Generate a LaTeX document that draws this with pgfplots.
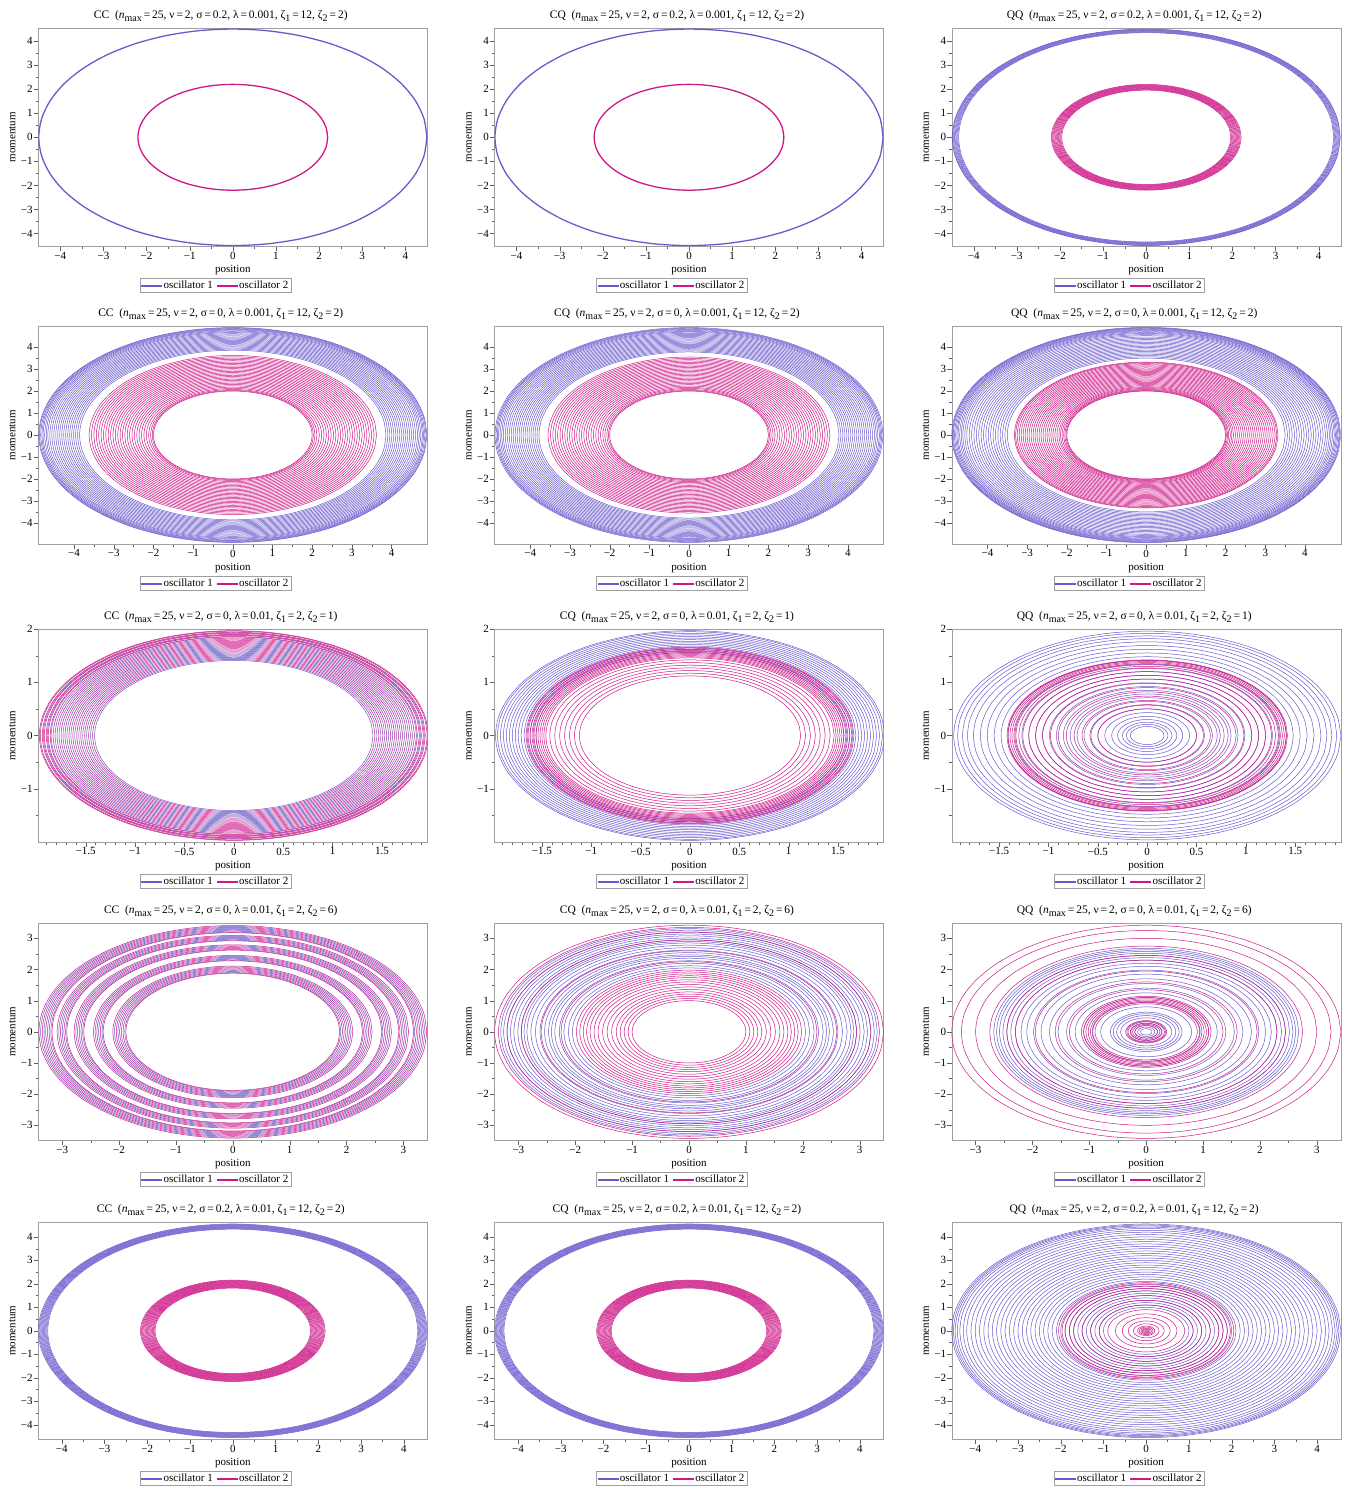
\documentclass[border=0pt]{standalone}
\usepackage{fontspec}
\setmainfont{Liberation Serif}
\usepackage{pgfplots}
\usepackage{pgfplotstable}
\pgfplotsset{compat=1.18}
\definecolor{oscA}{RGB}{106,90,205}
\definecolor{oscB}{RGB}{205,25,135}

\pgfplotstableread{
c s
1 0
0.9848 0.1736
0.9397 0.3420
0.8660 0.5
0.7660 0.6428
0.6428 0.7660
0.5 0.8660
0.3420 0.9397
0.1736 0.9848
0 1
-0.1736 0.9848
-0.3420 0.9397
-0.5 0.8660
-0.6428 0.7660
-0.7660 0.6428
-0.8660 0.5
-0.9397 0.3420
-0.9848 0.1736
-1 0
-0.9848 -0.1736
-0.9397 -0.3420
-0.8660 -0.5
-0.7660 -0.6428
-0.6428 -0.7660
-0.5 -0.8660
-0.3420 -0.9397
-0.1736 -0.9848
0 -1
0.1736 -0.9848
0.3420 -0.9397
0.5 -0.8660
0.6428 -0.7660
0.7660 -0.6428
0.8660 -0.5
0.9397 -0.3420
0.9848 -0.1736
1 0
}\unitcircle

% one closed ring of amplitude r for every r in the list
\newcommand\rings[2]{\pgfplotsinvokeforeach{#2}{\addplot[#1,forget plot,smooth] table[x expr=##1*\thisrow{c},y expr=##1*\thisrow{s}]{\unitcircle};}}
% the first ring of a series, carrying its legend entry
\newcommand\lring[3]{\addplot[#1,smooth] table[x expr=#2*\thisrow{c},y expr=#2*\thisrow{s}]{\unitcircle};\addlegendentry{#3}}

\newcommand\ttl[5]{#1\ \ (\textit{n}\raisebox{-3pt}{\fontsize{10}{10}\selectfont max}\,=\,25, ν\,=\,2, σ\,=\,#2, λ\,=\,#3, ζ\raisebox{-3pt}{\fontsize{10}{10}\selectfont 1}\,=\,#4, ζ\raisebox{-3pt}{\fontsize{10}{10}\selectfont 2}\,=\,#5)}

\pgfplotsset{
 every axis title shift=0pt,
 panel/.style={
  scale only axis, width=389pt, anchor=north west,
  axis line style={gray!75},
  tick align=outside, xtick pos=bottom, ytick pos=left,
  major tick length=4.5pt, minor tick length=2.5pt,
  tick style={gray!75!black},
  minor tick num=1,
  tick label style={font=\fontsize{11}{12}\selectfont, inner sep=1pt},
  xlabel=position, ylabel=momentum,
  label style={font=\fontsize{11}{12}\selectfont},
  xlabel style={at={(axis description cs:0.5,0)}, anchor=center, yshift=-24pt},
  ylabel style={at={(axis description cs:0,0.5)}, anchor=center, yshift=26pt},
  title style={at={(axis description cs:0.5,1)}, anchor=base, yshift=10pt, xshift=-12pt, font=\fontsize{11.5}{13}\selectfont},
  legend style={at={(axis description cs:0.5,0)}, anchor=north, yshift=-32pt, xshift=-17pt,
     draw=gray!75, fill=white, legend columns=2, font=\fontsize{11}{12}\selectfont,
     inner xsep=1pt, inner ysep=0.5pt,
     /tikz/every even column/.append style={column sep=2pt}},
  legend image code/.code={\fill[##1,line width=0.3pt] (0pt,-0.4pt) rectangle (20pt,0.4pt);},
  every axis plot/.append style={line width=0.5pt},
 },
 rowA/.style={panel, height=218pt, xmin=-4.51,xmax=4.51,ymin=-4.53,ymax=4.53,
   xtick={-4,...,4}, ytick={-4,...,4},
   xticklabels={−4,−3,−2,−1,0,1,2,3,4}, yticklabels={−4,−3,−2,−1,0,1,2,3,4}},
 rowB/.style={panel, height=218pt, xmin=-4.9,xmax=4.9,ymin=-4.96,ymax=4.96,
   xtick={-4,...,4}, ytick={-4,...,4},
   xticklabels={−4,−3,−2,−1,0,1,2,3,4}, yticklabels={−4,−3,−2,−1,0,1,2,3,4}},
 rowC/.style={panel, height=213pt, xmin=-1.98,xmax=1.96,ymin=-2.0,ymax=2.0,
   xtick={-1.5,-1,-0.5,0,0.5,1,1.5}, ytick={-1,0,1,2},
   xticklabels={−1.5,−1,−0.5,0,0.5,1,1.5}, yticklabels={−1,0,1,2},
   minor xtick={-1.9,-1.8,-1.7,-1.6,-1.4,-1.3,-1.2,-1.1,-0.9,-0.8,-0.7,-0.6,-0.4,-0.3,-0.2,-0.1,0.1,0.2,0.3,0.4,0.6,0.7,0.8,0.9,1.1,1.2,1.3,1.4,1.6,1.7,1.8,1.9},
   minor ytick={-1.5,-0.5,0.5,1.5}},
 rowD/.style={panel, height=217pt, xmin=-3.42,xmax=3.42,ymin=-3.48,ymax=3.48,
   xtick={-3,...,3}, ytick={-3,...,3},
   xticklabels={−3,−2,−1,0,1,2,3}, yticklabels={−3,−2,−1,0,1,2,3}},
 rowE/.style={panel, height=217pt, xmin=-4.55,xmax=4.55,ymin=-4.62,ymax=4.62,
   xtick={-4,...,4}, ytick={-4,...,4},
   xticklabels={−4,−3,−2,−1,0,1,2,3,4}, yticklabels={−4,−3,−2,−1,0,1,2,3,4}},
}

\begin{document}
\begin{tikzpicture}
\useasboundingbox (0,0) rectangle (1352pt,-1489pt);

%================ ROW 1 ================
\begin{axis}[rowA, at={(38.3pt,-28.3pt)}, title={\ttl{CC}{0.2}{0.001}{12}{2}}]
\lring{oscA,line width=1.3pt}{4.5}{oscillator 1}
\lring{oscB,line width=1.3pt}{2.2}{oscillator 2}
\end{axis}

\begin{axis}[rowA, at={(494.5pt,-28.3pt)}, title={\ttl{CQ}{0.2}{0.001}{12}{2}}]
\lring{oscA,line width=1.3pt}{4.5}{oscillator 1}
\lring{oscB,line width=1.3pt}{2.2}{oscillator 2}
\end{axis}

\begin{axis}[rowA, at={(951.7pt,-28.3pt)}, title={\ttl{QQ}{0.2}{0.001}{12}{2}}]
\lring{oscA}{4.5}{oscillator 1}
\rings{oscA}{4.35,4.37,4.39,4.41,4.43,4.45,4.47,4.49}
\lring{oscB}{2.2}{oscillator 2}
\rings{oscB}{1.96,1.98,2.0,2.02,2.04,2.06,2.08,2.1,2.12,2.14,2.16,2.18}
\end{axis}

%================ ROW 2 ================
\begin{axis}[rowB, at={(38.3pt,-326pt)}, title={\ttl{CC}{0}{0.001}{12}{2}}]
\lring{oscA}{4.89}{oscillator 1}
\rings{oscA}{3.86,3.91,3.96,4.01,4.06,4.11,4.16,4.21,4.26,4.31,4.36,4.41,4.46,4.51,4.56,4.61,4.66,4.7,4.74,4.78,4.81,4.84,4.87}
\lring{oscB}{3.62}{oscillator 2}
\rings{oscB}{2.0,2.03,2.07,2.12,2.18,2.24,2.3,2.36,2.42,2.48,2.54,2.6,2.66,2.72,2.78,2.84,2.9,2.96,3.02,3.08,3.14,3.2,3.26,3.32,3.38,3.44,3.5,3.56}
\end{axis}

\begin{axis}[rowB, at={(494.5pt,-326pt)}, title={\ttl{CQ}{0}{0.001}{12}{2}}]
\lring{oscA}{4.89}{oscillator 1}
\rings{oscA}{3.78,3.83,3.88,3.93,3.98,4.03,4.08,4.13,4.18,4.23,4.28,4.33,4.38,4.43,4.48,4.53,4.58,4.63,4.68,4.72,4.76,4.8,4.83,4.86}
\lring{oscB}{3.55}{oscillator 2}
\rings{oscB}{2.0,2.03,2.07,2.12,2.17,2.23,2.29,2.35,2.41,2.47,2.53,2.59,2.65,2.71,2.77,2.83,2.89,2.95,3.01,3.07,3.13,3.19,3.25,3.31,3.37,3.43,3.49}
\end{axis}

\begin{axis}[rowB, at={(951.7pt,-326pt)}, title={\ttl{QQ}{0}{0.001}{12}{2}}]
\lring{oscA}{4.9}{oscillator 1}
\rings{oscA}{3.5,3.56,3.62,3.68,3.74,3.8,3.86,3.92,3.98,4.04,4.1,4.16,4.22,4.28,4.34,4.4,4.46,4.52,4.57,4.62,4.66,4.7,4.74,4.77,4.8,4.83,4.86,4.88}
\lring{oscB}{3.32}{oscillator 2}
\rings{oscB}{2.0,2.02,2.05,2.08,2.12,2.16,2.2,2.25,2.3,2.35,2.4,2.45,2.5,2.55,2.6,2.65,2.7,2.75,2.8,2.85,2.9,2.95,3.0,3.05,3.1,3.15,3.2,3.25,3.29}
\end{axis}

%================ ROW 3 ================
\begin{axis}[rowC, at={(38.3pt,-629pt)}, title={\ttl{CC}{0}{0.01}{2}{1}}]
\lring{oscA}{1.93}{oscillator 1}
\rings{oscA}{1.41,1.45,1.49,1.53,1.57,1.61,1.65,1.69,1.73,1.77,1.81,1.85,1.89}
\lring{oscB}{1.97}{oscillator 2}
\rings{oscB}{1.43,1.47,1.51,1.55,1.59,1.63,1.67,1.71,1.75,1.79,1.83,1.86,1.88,1.9,1.92,1.94,1.96}
\end{axis}

\begin{axis}[rowC, at={(494.5pt,-629pt)}, title={\ttl{CQ}{0}{0.01}{2}{1}}]
\lring{oscA}{1.97}{oscillator 1}
\rings{oscA}{1.56,1.59,1.62,1.65,1.68,1.71,1.74,1.77,1.8,1.83,1.86,1.89,1.92,1.95}
\lring{oscB}{1.66}{oscillator 2}
\rings{oscB}{1.12,1.17,1.22,1.27,1.32,1.37,1.42,1.46,1.48,1.5,1.52,1.54,1.56,1.58,1.6,1.62,1.64}
\end{axis}

\begin{axis}[rowC, at={(951.7pt,-629pt)}, title={\ttl{QQ}{0}{0.01}{2}{1}}]
\lring{oscA}{1.96}{oscillator 1}
\rings{oscA}{0.17,0.21,0.25,0.3,0.36,0.43,0.5,0.57,0.64,0.71,0.78,0.85,0.92,0.99,1.06,1.13,1.2,1.27,1.34,1.41,1.48,1.55,1.62,1.69,1.76,1.82,1.87,1.92}
\lring{oscB}{1.42}{oscillator 2}
\rings{oscB}{0.5,0.58,0.66,0.74,0.82,0.9,0.98,1.06,1.13,1.2,1.26,1.3,1.33,1.35,1.37,1.39,1.41}
\end{axis}

%================ ROW 4 ================
\begin{axis}[rowD, at={(38.3pt,-923.3pt)}, title={\ttl{CC}{0}{0.01}{2}{6}}]
\lring{oscA}{3.38}{oscillator 1}
\rings{oscA}{1.9,1.96,2.02,2.08,2.3,2.36,2.42,2.64,2.7,2.76,2.94,3.0,3.06,3.2,3.26,3.32}
\lring{oscB}{3.41}{oscillator 2}
\rings{oscB}{1.88,1.93,1.99,2.05,2.11,2.28,2.33,2.39,2.45,2.62,2.67,2.73,2.79,2.92,2.97,3.03,3.09,3.18,3.23,3.29,3.35}
\end{axis}

\begin{axis}[rowD, at={(494.5pt,-923.3pt)}, title={\ttl{CQ}{0}{0.01}{2}{6}}]
\lring{oscA}{3.31}{oscillator 1}
\rings{oscA}{2.05,2.12,2.2,2.28,2.36,2.42,2.47,2.54,2.62,2.7,2.78,2.85,2.9,2.95,3.01,3.08,3.14,3.2,3.26}
\lring{oscB}{3.42}{oscillator 2}
\rings{oscB}{1.0,1.07,1.14,1.21,1.28,1.36,1.44,1.52,1.6,1.67,1.74,1.8,1.86,1.92,1.98,2.25,2.6,2.95,3.2,3.35}
\end{axis}

\begin{axis}[rowD, at={(951.7pt,-923.3pt)}, title={\ttl{QQ}{0}{0.01}{2}{6}}]
\lring{oscA}{2.68}{oscillator 1}
\rings{oscA}{0.1,0.15,0.2,0.27,0.34,0.45,0.52,0.58,0.63,0.8,0.95,1.1,1.25,1.4,1.55,1.7,1.85,1.98,2.1,2.2,2.3,2.38,2.45,2.52,2.58,2.63}
\lring{oscB}{3.42}{oscillator 2}
\rings{oscB}{0.2,0.24,0.28,0.32,0.36,0.9,0.94,0.98,1.02,1.06,1.1,1.14,1.35,1.6,1.95,2.3,2.45,2.75,3.0,3.25}
\end{axis}

%================ ROW 5 ================
\begin{axis}[rowE, at={(38.3pt,-1222.3pt)}, title={\ttl{CC}{0.2}{0.01}{12}{2}}]
\lring{oscA}{4.55}{oscillator 1}
\rings{oscA}{4.33,4.35,4.37,4.39,4.41,4.43,4.45,4.47,4.49,4.51,4.53}
\lring{oscB}{2.16}{oscillator 2}
\rings{oscB}{1.82,1.84,1.86,1.88,1.9,1.92,1.94,1.96,1.98,2.0,2.02,2.04,2.06,2.08,2.1,2.12,2.14}
\end{axis}

\begin{axis}[rowE, at={(494.5pt,-1222.3pt)}, title={\ttl{CQ}{0.2}{0.01}{12}{2}}]
\lring{oscA}{4.55}{oscillator 1}
\rings{oscA}{4.33,4.35,4.37,4.39,4.41,4.43,4.45,4.47,4.49,4.51,4.53}
\lring{oscB}{2.16}{oscillator 2}
\rings{oscB}{1.82,1.84,1.86,1.88,1.9,1.92,1.94,1.96,1.98,2.0,2.02,2.04,2.06,2.08,2.1,2.12,2.14}
\end{axis}

\begin{axis}[rowE, at={(951.7pt,-1222.3pt)}, title={\ttl{QQ}{0.2}{0.01}{12}{2}}]
\lring{oscA}{4.55}{oscillator 1}
\rings{oscA}{1.0,1.1,1.2,1.3,1.4,1.5,1.6,1.7,1.8,1.9,2.0,2.1,2.2,2.3,2.4,2.5,2.6,2.7,2.8,2.9,3.0,3.1,3.2,3.3,3.4,3.5,3.6,3.7,3.8,3.9,4.0,4.1,4.2,4.28,4.36,4.42,4.47,4.51}
\lring{oscB}{2.05}{oscillator 2}
\rings{oscB}{0.03,0.06,0.09,0.12,0.16,0.2,0.3,0.42,0.56,0.72,0.9,1.1,1.3,1.5,1.7,1.8,1.9,1.97}
\end{axis}
\end{tikzpicture}
\end{document}
